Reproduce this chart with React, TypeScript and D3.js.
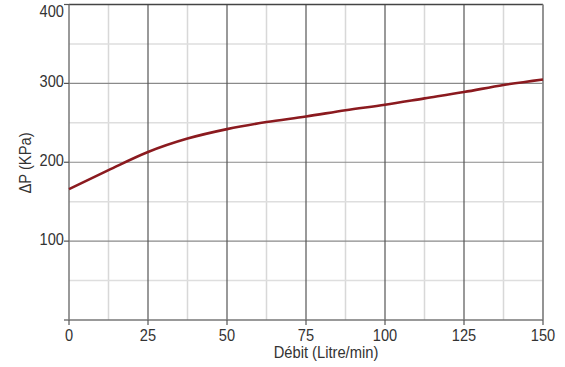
import * as d3 from "d3";
import { useEffect, useRef } from "react";

// flow (Litre/min) and pressure drop (KPa)
const flow = [0, 12.5, 25, 37.5, 50, 62.5, 75, 87.5, 100, 112.5, 125, 137.5, 150];
const deltaP = [166, 190, 213, 230, 242, 251, 258, 266, 273, 281, 289, 298, 305];

const xTicks = [0, 25, 50, 75, 100, 125, 150];
const xMinor = [12.5, 37.5, 62.5, 87.5, 112.5, 137.5];
const yTicks = [100, 200, 300, 400];
const yMinor = [50, 150, 250, 350];

const W = 565;
const H = 367;
const FONT = "'Liberation Sans', Arial, sans-serif";

export default function App() {
  const ref = useRef<SVGSVGElement>(null);

  useEffect(() => {
    const svg = d3.select(ref.current);
    svg.selectAll("*").remove();

    const x = d3.scaleLinear().domain([0, 150]).range([69, 543]);
    const y = d3.scaleLinear().domain([0, 400]).range([320, 4.5]);

    const grid = svg.append("g");
    // minor grid lines
    grid.selectAll(".vmin").data(xMinor).enter().append("line")
      .attr("x1", (d) => x(d)).attr("x2", (d) => x(d))
      .attr("y1", y(0)).attr("y2", y(400))
      .attr("stroke", "#d8d8d8").attr("stroke-width", 1.5);
    grid.selectAll(".hmin").data(yMinor).enter().append("line")
      .attr("x1", x(0)).attr("x2", x(150))
      .attr("y1", (d) => y(d)).attr("y2", (d) => y(d))
      .attr("stroke", "#dedede").attr("stroke-width", 1.5);
    // major grid lines
    grid.selectAll(".hmaj").data(yTicks.slice(0, 3)).enter().append("line")
      .attr("x1", x(0)).attr("x2", x(150))
      .attr("y1", (d) => y(d)).attr("y2", (d) => y(d))
      .attr("stroke", "#8a8a8a").attr("stroke-width", 1.2);
    grid.selectAll(".vmaj").data(xTicks.slice(1, 6)).enter().append("line")
      .attr("x1", (d) => x(d)).attr("x2", (d) => x(d))
      .attr("y1", y(0)).attr("y2", y(400))
      .attr("stroke", "#555").attr("stroke-width", 1.2);

    // frame
    svg.append("line").attr("x1", x(0)).attr("x2", x(150)).attr("y1", y(400)).attr("y2", y(400))
      .attr("stroke", "#444").attr("stroke-width", 1.5);
    svg.append("line").attr("x1", x(150)).attr("x2", x(150)).attr("y1", y(0)).attr("y2", y(400))
      .attr("stroke", "#888").attr("stroke-width", 1.8);
    svg.append("line").attr("x1", x(0)).attr("x2", x(0)).attr("y1", y(0)).attr("y2", y(400))
      .attr("stroke", "#777").attr("stroke-width", 1.5);
    svg.append("line").attr("x1", x(0) - 5).attr("x2", x(150)).attr("y1", y(0)).attr("y2", y(0))
      .attr("stroke", "#777").attr("stroke-width", 1.5);

    // ticks
    svg.selectAll(".xt").data(xTicks).enter().append("line")
      .attr("x1", (d) => x(d)).attr("x2", (d) => x(d))
      .attr("y1", y(0)).attr("y2", y(0) + 5)
      .attr("stroke", "#555").attr("stroke-width", 1.2);
    svg.selectAll(".yt").data(yTicks).enter().append("line")
      .attr("x1", x(0) - 5).attr("x2", x(0))
      .attr("y1", (d) => y(d)).attr("y2", (d) => y(d))
      .attr("stroke", "#555").attr("stroke-width", 1.2);

    // tick labels (slightly condensed like the original)
    svg.selectAll(".xl").data(xTicks).enter().append("text")
      .attr("transform", (d) => `translate(${x(d)},341) scale(0.86,1)`)
      .attr("text-anchor", "middle")
      .attr("font-family", FONT).attr("font-size", 17).attr("fill", "#333")
      .text((d) => d);
    svg.selectAll(".yl").data(yTicks).enter().append("text")
      .attr("transform", (d) => `translate(${x(0) - 5},${Math.max(y(d) + 4, 16.5)}) scale(0.86,1)`)
      .attr("text-anchor", "end")
      .attr("font-family", FONT).attr("font-size", 17).attr("fill", "#333")
      .text((d) => d);

    // axis titles
    svg.append("text")
      .attr("transform", "translate(326,358) scale(0.92,1)")
      .attr("text-anchor", "middle")
      .attr("font-family", FONT).attr("font-size", 16).attr("fill", "#333")
      .text("Débit (Litre/min)");
    svg.append("text")
      .attr("transform", "translate(31,163) rotate(-90) scale(0.92,1)")
      .attr("text-anchor", "middle")
      .attr("font-family", FONT).attr("font-size", 16).attr("fill", "#333")
      .text("ΔP (KPa)");

    // curve
    const line = d3.line<number>()
      .x((d, i) => x(flow[i]))
      .y((d) => y(d))
      .curve(d3.curveMonotoneX);
    svg.append("path")
      .datum(deltaP)
      .attr("d", line)
      .attr("fill", "none")
      .attr("stroke", "#8b1a1f")
      .attr("stroke-width", 2.6);
  }, []);

  return (
    <svg
      ref={ref}
      width={W}
      height={H}
      style={{ position: "absolute", left: 0, top: 0, background: "#fff" }}
    />
  );
}
